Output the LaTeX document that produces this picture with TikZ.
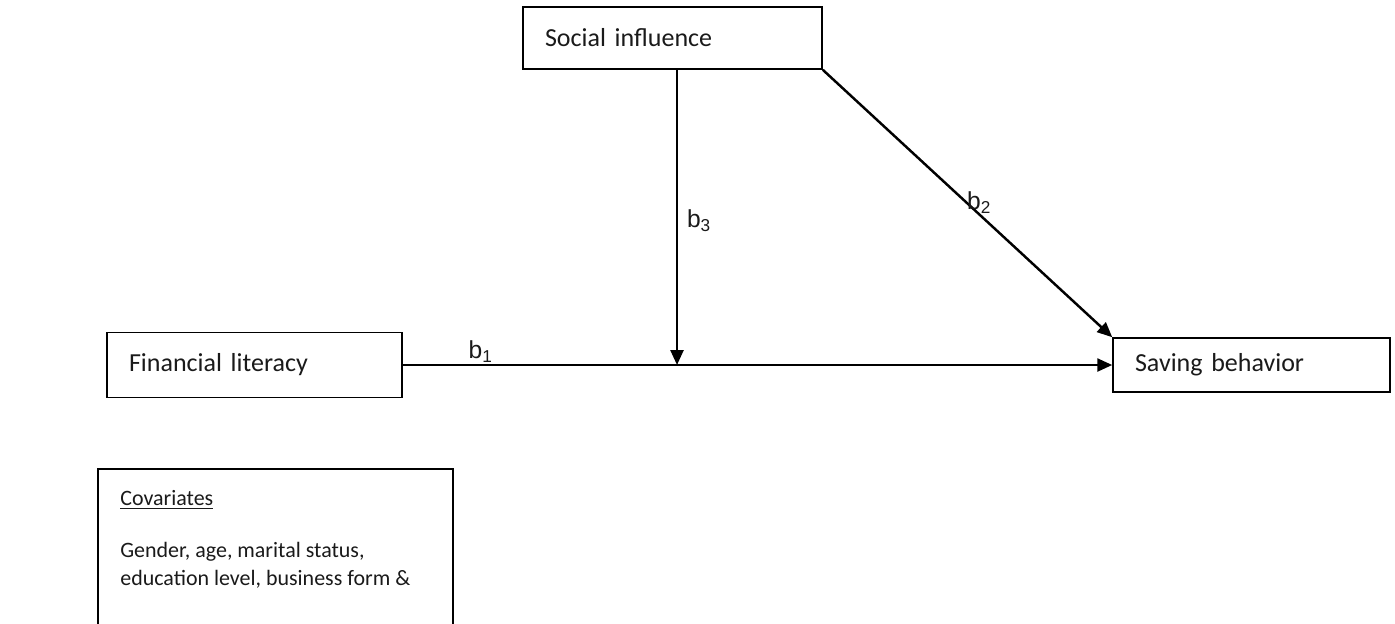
\documentclass[tikz,border=0pt]{standalone}
\usepackage{fontspec}
\setmainfont{Carlito}
\newfontfamily\labelfont{Liberation Sans}
\usepackage{tikz}
\usetikzlibrary{positioning, arrows.meta}
\usepackage{xcolor}
\definecolor{LineBlack}{HTML}{000000}
\definecolor{TextBlack}{HTML}{1A1A1A}

\tikzset{
    varbox/.style={draw=LineBlack, line width=0.9pt, rectangle, align=left,
        inner xsep=0.44cm, inner ysep=0pt, font=\fontsize{14.8}{17}\selectfont, text=TextBlack},
    path/.style={->, line width=1.4pt, LineBlack,
        >={Triangle[length=0.3cm, width=0.26cm]}},
    coef/.style={font=\labelfont\fontsize{14}{16}\selectfont, text=TextBlack, inner sep=1pt}
}

\begin{document}
\begin{tikzpicture}[x=0.02cm, y=-0.02cm]
                \useasboundingbox (0,0) rectangle (1395,623);
                \node[varbox, text width=5.1cm, minimum height=1.24cm] (social) at (672.5, 38) {Social influence};
                \node[varbox, text width=5.02cm, minimum height=1.3cm] (fin) at (254.5, 365) {Financial literacy};
                \node[varbox, text width=4.66cm, minimum height=1.08cm] (saving) at (1251.5, 365) {Saving behavior};
                \coordinate (meet) at (677, 365);
                
                % Covariates box
                \node[draw=LineBlack, line width=0.9pt, anchor=north west, minimum width=7.1cm, minimum height=5cm] (cov) at (97, 468) {};
                \node[anchor=north west, align=left, font=\fontsize{12.5}{15.9}\selectfont, text=TextBlack, inner sep=0pt] (covtext) at (120, 490)
                    {\underline{Covariates}\\[0.48cm]Gender, age, marital status,\\education level, business form \&};
                
                % Paths
                \draw[path] (fin.east) -- (saving.west) node[coef, pos=0.11, above] {b\textsubscript{1}};
                \draw[path] (social.south -| meet) -- (meet) node[coef, pos=0.51, right, xshift=4pt] {b\textsubscript{3}};
                \draw[path] (social.south east) -- (saving.north west) node[coef, pos=0.47, above right, xshift=3pt, yshift=-12pt] {b\textsubscript{2}};
            \end{tikzpicture}
\end{document}
